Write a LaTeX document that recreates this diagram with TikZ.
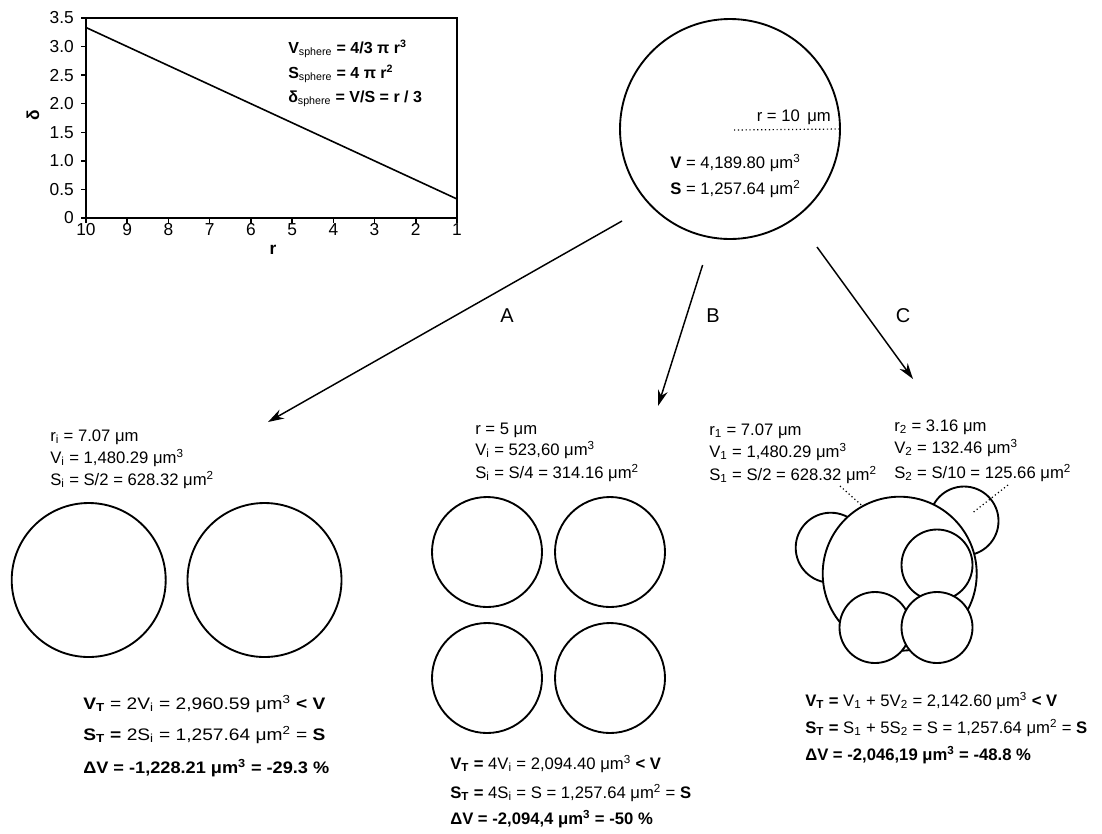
\documentclass[tikz,border=0pt]{standalone}
\usepackage{fontspec}
\setmainfont{Liberation Sans}
\newfontfamily\widefont[FakeStretch=1.15]{Liberation Sans}
\newfontfamily\widefontb[FakeStretch=1.09]{Liberation Sans}
\usetikzlibrary{arrows.meta}
\newcommand{\um}{μm}
\begin{document}
\begin{tikzpicture}[x=0.75pt,y=-0.75pt,
  txt/.style={anchor=base west,inner sep=0pt,font=\fontsize{12.5}{15}\selectfont},
  txtr/.style={anchor=base east,inner sep=0pt,font=\fontsize{12.5}{15}\selectfont},
  wtxt/.style={anchor=base west,inner sep=0pt,font=\widefont\fontsize{12.5}{15}\selectfont},
  lbl/.style={inner sep=0pt,font=\fontsize{15}{18}\selectfont},
  tick/.style={inner sep=0pt,font=\fontsize{13}{15}\selectfont},
  sph/.style={circle,draw,line width=1.4pt,fill=white,inner sep=0pt,minimum size=#1*0.75pt},
  arr/.style={line width=1.1pt,-{Stealth[length=12pt,width=7.5pt]}},
  dots/.style={dotted,line width=0.9pt},
  axis/.style={line width=1.1pt}
]
\useasboundingbox (0,0) rectangle (1102,833);

% ---------- graph ----------
\draw[axis] (86,18) rectangle (457,218);
\foreach \v/\l [count=\k] in {0/0,0.5/0.5,1/1.0,1.5/1.5,2/2.0,2.5/2.5,3/3.0,3.5/3.5} {
  \draw[axis] (81,{218-\v*57.14}) -- (86,{218-\v*57.14});
  \node[tick,anchor=east] (yl\k) at (74,{218-\v*57.14}) {\l};
}
\foreach \r in {1,...,10} {
  \pgfmathsetmacro\xx{86+41.222*(10-\r)}
  \draw[axis] (\xx,218) -- (\xx,223);
  \node[tick,anchor=north] (xl\r) at (\xx,223) {\r};
}
\node[tick,font=\fontsize{13}{15}\selectfont\bfseries] (xlab) at (273,250) {r};
\node[tick,rotate=90,font=\fontsize{13}{15}\selectfont\bfseries] (ylab) at (33,115) {δ};
\coordinate (p1) at (86,27.5);
\coordinate (p2) at (457,199);
\draw[line width=1.2pt] (p1) -- (p2);
\node[txt,font=\fontsize{12}{15}\selectfont\bfseries] (f1) at (288,53) {V\textsubscript{\mdseries sphere} = 4/3 π r\textsuperscript{3}};
\node[txt,font=\fontsize{12}{15}\selectfont\bfseries] (f2) at (288,78) {S\textsubscript{\mdseries sphere} = 4 π r\textsuperscript{2}};
\node[txt,font=\fontsize{12}{15}\selectfont\bfseries] (f3) at (288,102) {δ\textsubscript{\mdseries sphere} = V/S = r / 3};

% ---------- top sphere ----------
\node[sph=220] (big) at (730,129) {};
\node[txtr] (r10) at (831,121) {r = 10 \,\um};
\coordinate (rc) at (734,130);
\draw[dots] (rc) -- (big.east);
\node[txt] (V0) at (670,168) {\textbf{V} = 4,189.80 \um\textsuperscript{3}};
\node[txt] (S0) at (670,194) {\textbf{S} = 1,257.64 \um\textsuperscript{2}};

% ---------- arrows ----------
\coordinate (As) at (622,221);
\coordinate (At) at (268,422);
\coordinate (Bs) at (702.6,265);
\coordinate (Bt) at (658,406);
\coordinate (Cs) at (817,247);
\coordinate (Ct) at (913,379);
\draw[arr] (As) -- (At);
\draw[arr] (Bs) -- (Bt);
\draw[arr] (Cs) -- (Ct);
\node[lbl] (lA) at (507,316) {A};
\node[lbl] (lB) at (713,316) {B};
\node[lbl] (lC) at (903,316) {C};

% ---------- group A ----------
\node[txt] (Ar) at (50,441) {r\textsubscript{i} = 7.07 \um};
\node[txt] (AV) at (50,463) {V\textsubscript{i} = 1,480.29 \um\textsuperscript{3}};
\node[txt] (AS) at (50,485) {S\textsubscript{i} = S/2 = 628.32 \um\textsuperscript{2}};
\node[sph=154] (a1) at (88.7,580) {};
\node[sph=154] (a2) at (264.5,580) {};
\node[wtxt] (AVT) at (83,709) {\textbf{V\textsubscript{T}} = 2V\textsubscript{i} = 2,960.59 \um\textsuperscript{3} \textbf{< V}};
\node[wtxt] (AST) at (83,740) {\textbf{S\textsubscript{T} =} 2S\textsubscript{i} = 1,257.64 \um\textsuperscript{2} = \textbf{S}};
\node[wtxt,font=\widefontb\fontsize{12.5}{15}\selectfont\bfseries] (AdV) at (83,773) {ΔV = -1,228.21 \um\textsuperscript{3} = -29.3 \%};

% ---------- group B ----------
\node[txt] (Br) at (475,434) {r = 5 \um};
\node[txt] (BV) at (475,455) {V\textsubscript{i} = 523,60 \um\textsuperscript{3}};
\node[txt] (BS) at (475,478) {S\textsubscript{i} = S/4 = 314.16 \um\textsuperscript{2}};
\node[sph=110] (b1) at (487,552) {};
\node[sph=110] (b2) at (610,552) {};
\node[sph=110] (b3) at (487,678) {};
\node[sph=110] (b4) at (610,678) {};
\node[txt] (BVT) at (450,769) {\textbf{V\textsubscript{T} =} 4V\textsubscript{i} = 2,094.40 \um\textsuperscript{3} \textbf{< V}};
\node[txt] (BST) at (450,798) {\textbf{S\textsubscript{T} =} 4S\textsubscript{i} = S = 1,257.64 \um\textsuperscript{2} = \textbf{S}};
\node[txt,font=\fontsize{12.5}{15}\selectfont\bfseries] (BdV) at (450,824) {ΔV = -2,094,4 \um\textsuperscript{3} = -50 \%};

% ---------- group C ----------
\node[txt] (Cr1) at (709,435) {r\textsubscript{1} = 7.07 \um};
\node[txt] (CV1) at (709,457) {V\textsubscript{1} = 1,480.29 \um\textsuperscript{3}};
\node[txt] (CS1) at (709,480) {S\textsubscript{1} = S/2 = 628.32 \um\textsuperscript{2}};
\node[txt] (Cr2) at (894,431) {r\textsubscript{2} = 3.16 \um};
\node[txt] (CV2) at (894,453) {V\textsubscript{2} = 132.46 \um\textsuperscript{3}};
\node[txt] (CS2) at (894,478) {S\textsubscript{2} = S/10 = 125.66 \um\textsuperscript{2}};
\node[sph=70] (sL) at (830.7,547.7) {};
\node[sph=69] (sR) at (964,521) {};
\node[sph=154] (c1) at (899.7,573.7) {};
\node[sph=71] (sI) at (937,565) {};
\node[sph=71] (sBL) at (875,627.5) {};
\node[sph=71] (sBR) at (937,627.5) {};
\coordinate (l1) at (840,486);
\draw[dots] (l1) -- (c1.119);
\coordinate (l2a) at (1008,485);
\coordinate (l2b) at (972.7,512.7);
\draw[dots] (l2a) -- (l2b);
\node[txt] (CVT) at (805,706) {\textbf{V\textsubscript{T} =} V\textsubscript{1} + 5V\textsubscript{2} = 2,142.60 \um\textsuperscript{3} \textbf{< V}};
\node[txt] (CST) at (805,733) {\textbf{S\textsubscript{T} =} S\textsubscript{1} + 5S\textsubscript{2} = S = 1,257.64 \um\textsuperscript{2} = \textbf{S}};
\node[txt,font=\fontsize{12.5}{15}\selectfont\bfseries] (CdV) at (805,760) {ΔV = -2,046,19 \um\textsuperscript{3} = -48.8 \%};
\end{tikzpicture}
\end{document}
